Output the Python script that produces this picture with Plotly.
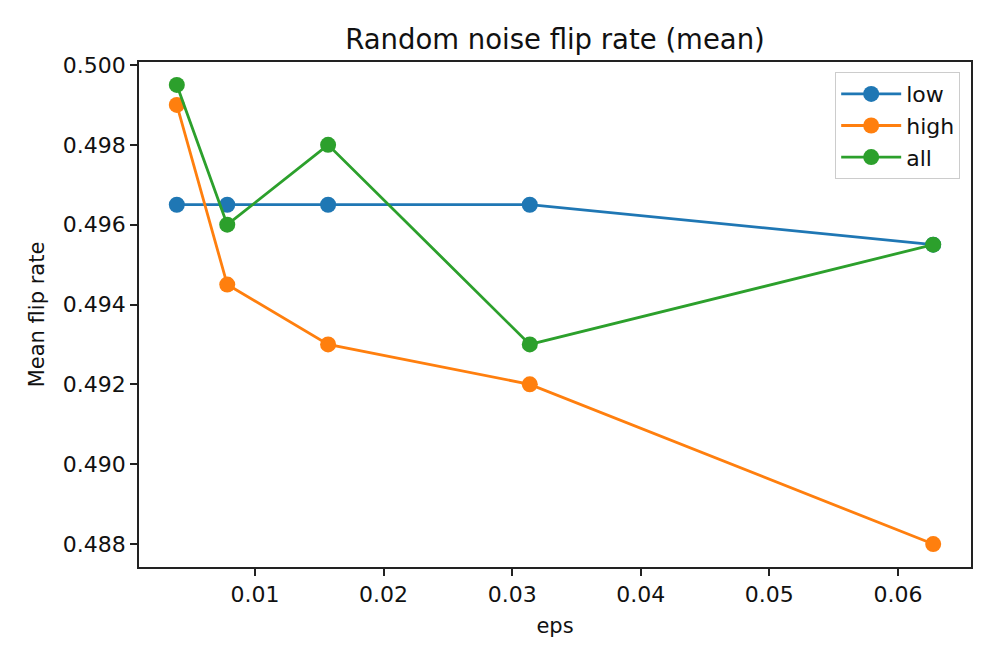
import plotly.graph_objects as go

eps = [1/255, 2/255, 4/255, 8/255, 16/255]
low = [0.4965, 0.4965, 0.4965, 0.4965, 0.4955]
high = [0.4990, 0.4945, 0.4930, 0.4920, 0.4880]
all_ = [0.4995, 0.4960, 0.4980, 0.4930, 0.4955]
series = [("low", low, "#1f77b4"), ("high", high, "#ff7f0e"), ("all", all_, "#2ca02c")]
x_ticks = [0.01, 0.02, 0.03, 0.04, 0.05, 0.06]
y_ticks = [0.488, 0.490, 0.492, 0.494, 0.496, 0.498, 0.500]

FONT = "DejaVu Sans"
fig = go.Figure()
for name, vals, col in series:
    fig.add_trace(go.Scatter(x=eps, y=vals, name=name, mode="lines+markers",
                             line=dict(color=col, width=2.8),
                             marker=dict(color=col, size=16)))

axis_common = dict(showline=True, mirror=True, linecolor="#222", linewidth=1.6,
                   ticks="outside", ticklen=7, tickwidth=1.6, tickcolor="#222",
                   showgrid=False, zeroline=False,
                   tickfont=dict(family=FONT, size=22, color="#111"))
fig.update_xaxes(range=[0.00098, 0.065686], tickvals=x_ticks, tickformat=".2f",
                 title=dict(text="eps", font=dict(family=FONT, size=21, color="#111"), standoff=12),
                 **axis_common)
fig.update_yaxes(range=[0.487425, 0.500075], tickvals=y_ticks, tickformat=".3f",
                 title=dict(text="Mean flip rate", font=dict(family=FONT, size=21, color="#111"), standoff=12),
                 **axis_common)
fig.update_layout(
    width=988, height=656,
    margin=dict(l=131, r=25, t=54, b=97),
    plot_bgcolor="white", paper_bgcolor="white",
    title=dict(text="Random noise flip rate (mean)", x=0.5, xref="paper", xanchor="center",
               y=1, yref="paper", yanchor="bottom", pad=dict(b=13),
               font=dict(family=FONT, size=27.5, color="#111")),
    legend=dict(x=0.987, y=0.98, xanchor="right", yanchor="top",
                bordercolor="#cccccc", borderwidth=1, bgcolor="white",
                font=dict(family=FONT, size=22, color="#111"),
                tracegroupgap=0, itemwidth=60),
    showlegend=True,
)
fig.write_html("out.html")
